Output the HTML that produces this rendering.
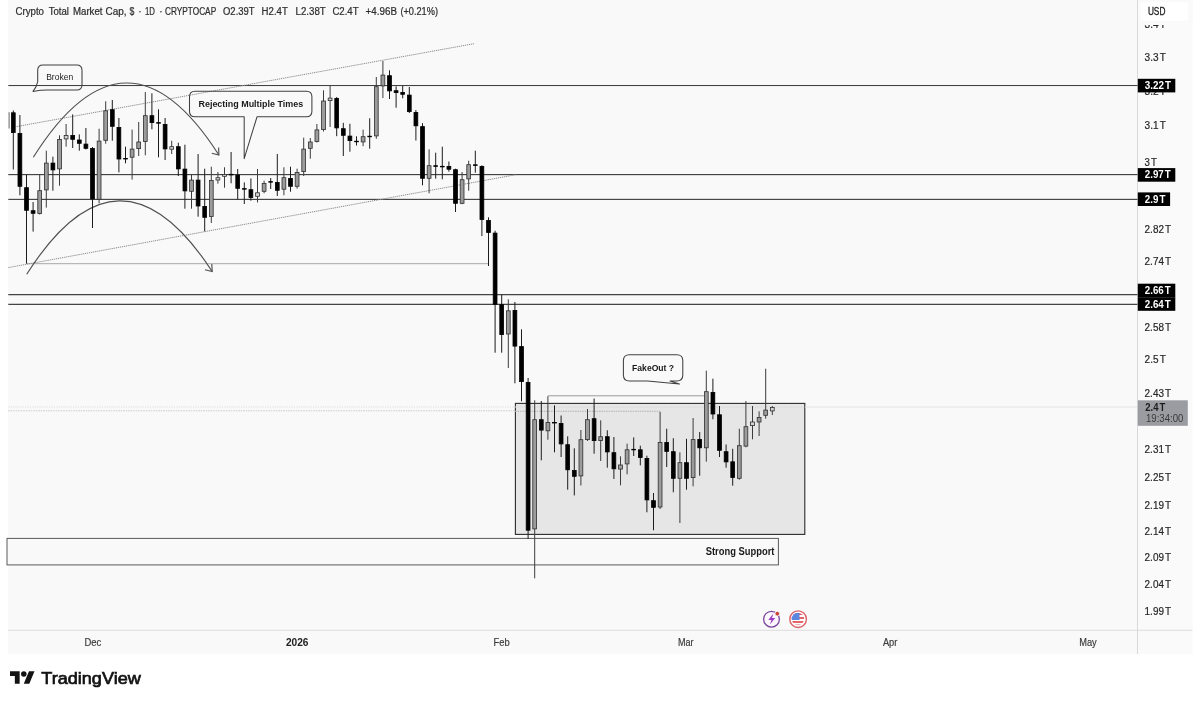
<!DOCTYPE html>
<html lang="en"><head><meta charset="utf-8"><title>Crypto Total Market Cap chart</title>
<style>
html,body{margin:0;padding:0;background:#fff;}
body{width:1200px;height:703px;overflow:hidden;position:relative;}
svg{position:absolute;left:0;top:0;display:block;}
text{font-family:"Liberation Sans",sans-serif;fill:#2a2a2a;}
.ax{font-size:10px;fill:#262626;stroke:#262626;stroke-width:0.18px;}
.bl{font-size:10px;font-weight:bold;fill:#fff;}
.cp1{font-size:10px;font-weight:bold;fill:#1c1c1c;}
.cp2{font-size:10px;fill:#3a3a3a;}
.usd{font-size:10px;fill:#222;stroke:#222;stroke-width:0.3px;}
.tx{font-size:10px;fill:#3a3a3a;stroke:#3a3a3a;stroke-width:0.18px;}
.tb{font-size:10px;font-weight:bold;fill:#222;}
.cb{font-size:9px;fill:#222;}
.cbb{font-size:9px;font-weight:bold;fill:#1a1a1a;}
.ss{font-size:10px;font-weight:bold;fill:#1a1a1a;}
.ti{font-size:10px;fill:#2e2e2e;stroke:#2e2e2e;stroke-width:0.22px;}
.tv{font-size:17px;fill:#131313;stroke:#131313;stroke-width:0.7px;}
</style></head>
<body>
<svg width="1200" height="703" viewBox="0 0 1200 703">
<rect x="8" y="0" width="1184.4" height="654" fill="#f9f9f9"/>
<rect x="1138" y="0" width="54.4" height="654" fill="#fafafa"/>
<line x1="1137.5" y1="0" x2="1137.5" y2="654" stroke="#d9d9d9" stroke-width="1"/>
<line x1="8.3" y1="630.3" x2="1192.4" y2="630.3" stroke="#dcdcdc" stroke-width="1"/>
<rect x="515.4" y="403.4" width="289.4" height="131" fill="#e6e6e6" stroke="#2a2a2a" stroke-width="1.1"/>
<rect x="7" y="538.4" width="771.4" height="26.5" fill="#f9f9f9" stroke="#5a5a5a" stroke-width="1"/>
<line x1="8.3" y1="407" x2="515" y2="407" stroke="#dcdcdc" stroke-width="1" stroke-dasharray="1.2 1.2"/>
<line x1="515" y1="407" x2="805" y2="407" stroke="#d4d4d4" stroke-width="1" stroke-dasharray="1.2 1.2"/>
<line x1="805" y1="407" x2="1137" y2="407" stroke="#e3e3e3" stroke-width="1.2"/>
<line x1="8.3" y1="410.8" x2="515" y2="410.8" stroke="#c6c6c6" stroke-width="1.1" stroke-dasharray="1.4 1.1"/>
<line x1="515" y1="411.3" x2="660" y2="411.3" stroke="#b4b4b4" stroke-width="1.1" stroke-dasharray="1.6 0.8"/>
<line x1="8.3" y1="85.55" x2="1137.5" y2="85.55" stroke="#222" stroke-width="0.9"/>
<line x1="8.3" y1="174.65" x2="1137.5" y2="174.65" stroke="#262626" stroke-width="1.0"/>
<line x1="8.3" y1="199.35" x2="1137.5" y2="199.35" stroke="#262626" stroke-width="1.0"/>
<line x1="8.3" y1="294.6" x2="1137.5" y2="294.6" stroke="#444" stroke-width="1.25"/>
<line x1="8.3" y1="304.3" x2="1137.5" y2="304.3" stroke="#444" stroke-width="1.25"/>
<line x1="26.5" y1="263.7" x2="488.5" y2="263.7" stroke="#a8a8a8" stroke-width="1"/>
<line x1="547.9" y1="395.8" x2="706.3" y2="395.8" stroke="#9a9a9a" stroke-width="1"/>
<line x1="16.5" y1="126.6" x2="474" y2="43.7" stroke="#909090" stroke-width="1" stroke-dasharray="1.3 0.8"/>
<line x1="8.3" y1="267.6" x2="515.3" y2="174.8" stroke="#909090" stroke-width="1" stroke-dasharray="1.3 0.8"/>
<path d="M33.3 157.3 Q126 10 218.7 154.7" fill="none" stroke="#505050" stroke-width="1.15"/>
<path d="M211.8 153.2 L218.9 155 L218.6 147.6" fill="none" stroke="#505050" stroke-width="1.15"/>
<path d="M26.7 274.3 Q119 129 212 271.2" fill="none" stroke="#505050" stroke-width="1.15"/>
<path d="M205 269.8 L212.2 271.5 L211.8 264" fill="none" stroke="#505050" stroke-width="1.15"/>
<line x1="13.30" y1="110.4" x2="13.30" y2="169.5" stroke="#1c1c1c" stroke-width="1"/>
<rect x="11.40" y="112.80" width="3.80" height="19.80" fill="#000" stroke="#000" stroke-width="0.8"/>
<line x1="19.90" y1="115" x2="19.90" y2="195.3" stroke="#1c1c1c" stroke-width="1"/>
<rect x="18.00" y="133.40" width="3.80" height="52.90" fill="#000" stroke="#000" stroke-width="0.8"/>
<line x1="26.50" y1="174.7" x2="26.50" y2="263.7" stroke="#1c1c1c" stroke-width="1"/>
<rect x="24.60" y="187.70" width="3.80" height="22.60" fill="#000" stroke="#000" stroke-width="0.8"/>
<line x1="33.10" y1="202" x2="33.10" y2="231.6" stroke="#1c1c1c" stroke-width="1"/>
<rect x="31.20" y="210.70" width="3.80" height="2.60" fill="#000" stroke="#000" stroke-width="0.8"/>
<line x1="39.70" y1="174" x2="39.70" y2="214.5" stroke="#3c3c3c" stroke-width="1"/>
<rect x="37.80" y="190.70" width="3.80" height="22.90" fill="#9c9c9c" stroke="#2e2e2e" stroke-width="0.8"/>
<line x1="46.30" y1="150.7" x2="46.30" y2="207.6" stroke="#3c3c3c" stroke-width="1"/>
<rect x="44.40" y="163.10" width="3.80" height="26.80" fill="#9c9c9c" stroke="#2e2e2e" stroke-width="0.8"/>
<line x1="52.90" y1="156.7" x2="52.90" y2="190.7" stroke="#1c1c1c" stroke-width="1"/>
<rect x="51.00" y="163.10" width="3.80" height="6.80" fill="#000" stroke="#000" stroke-width="0.8"/>
<line x1="59.50" y1="135.3" x2="59.50" y2="185.7" stroke="#3c3c3c" stroke-width="1"/>
<rect x="57.60" y="139.40" width="3.80" height="29.50" fill="#9c9c9c" stroke="#2e2e2e" stroke-width="0.8"/>
<line x1="66.10" y1="124" x2="66.10" y2="146.7" stroke="#3c3c3c" stroke-width="1"/>
<rect x="64.20" y="135.40" width="3.80" height="3.50" fill="#d4d4d4" stroke="#2e2e2e" stroke-width="0.8"/>
<line x1="72.70" y1="114.4" x2="72.70" y2="148" stroke="#1c1c1c" stroke-width="1"/>
<rect x="70.80" y="135.40" width="3.80" height="3.90" fill="#000" stroke="#000" stroke-width="0.8"/>
<line x1="79.30" y1="134.4" x2="79.30" y2="150.7" stroke="#1c1c1c" stroke-width="1"/>
<rect x="77.40" y="140.00" width="3.80" height="3.30" fill="#000" stroke="#000" stroke-width="0.8"/>
<line x1="85.90" y1="128" x2="85.90" y2="149.5" stroke="#1c1c1c" stroke-width="1"/>
<rect x="84.00" y="144.10" width="3.80" height="4.20" fill="#000" stroke="#000" stroke-width="0.8"/>
<line x1="92.50" y1="147" x2="92.50" y2="228" stroke="#1c1c1c" stroke-width="1"/>
<rect x="90.60" y="148.40" width="3.80" height="50.50" fill="#000" stroke="#000" stroke-width="0.8"/>
<line x1="99.10" y1="128.7" x2="99.10" y2="203.3" stroke="#3c3c3c" stroke-width="1"/>
<rect x="97.20" y="141.10" width="3.80" height="58.10" fill="#9c9c9c" stroke="#2e2e2e" stroke-width="0.8"/>
<line x1="105.70" y1="101.3" x2="105.70" y2="143.7" stroke="#3c3c3c" stroke-width="1"/>
<rect x="103.80" y="110.80" width="3.80" height="29.50" fill="#9c9c9c" stroke="#2e2e2e" stroke-width="0.8"/>
<line x1="112.30" y1="100" x2="112.30" y2="140.7" stroke="#1c1c1c" stroke-width="1"/>
<rect x="110.40" y="109.70" width="3.80" height="16.60" fill="#000" stroke="#000" stroke-width="0.8"/>
<line x1="118.90" y1="118" x2="118.90" y2="172.4" stroke="#1c1c1c" stroke-width="1"/>
<rect x="117.00" y="127.40" width="3.80" height="31.60" fill="#000" stroke="#000" stroke-width="0.8"/>
<line x1="125.50" y1="146.7" x2="125.50" y2="163.3" stroke="#1c1c1c" stroke-width="1"/>
<rect x="123.60" y="158.40" width="3.80" height="0.60" fill="#000" stroke="#000" stroke-width="0.8"/>
<line x1="132.10" y1="129.6" x2="132.10" y2="179.6" stroke="#3c3c3c" stroke-width="1"/>
<rect x="130.20" y="149.10" width="3.80" height="8.10" fill="#9c9c9c" stroke="#2e2e2e" stroke-width="0.8"/>
<line x1="138.70" y1="122" x2="138.70" y2="156" stroke="#3c3c3c" stroke-width="1"/>
<rect x="136.80" y="142.00" width="3.80" height="6.60" fill="#9c9c9c" stroke="#2e2e2e" stroke-width="0.8"/>
<line x1="145.30" y1="92" x2="145.30" y2="155.3" stroke="#3c3c3c" stroke-width="1"/>
<rect x="143.40" y="115.70" width="3.80" height="25.90" fill="#9c9c9c" stroke="#2e2e2e" stroke-width="0.8"/>
<line x1="151.90" y1="93.3" x2="151.90" y2="129.3" stroke="#1c1c1c" stroke-width="1"/>
<rect x="150.00" y="115.70" width="3.80" height="6.90" fill="#000" stroke="#000" stroke-width="0.8"/>
<line x1="158.50" y1="109.3" x2="158.50" y2="157.3" stroke="#1c1c1c" stroke-width="1"/>
<rect x="156.60" y="122.60" width="3.80" height="0.60" fill="#000" stroke="#000" stroke-width="0.8"/>
<line x1="165.10" y1="118" x2="165.10" y2="160" stroke="#1c1c1c" stroke-width="1"/>
<rect x="163.20" y="124.40" width="3.80" height="24.50" fill="#000" stroke="#000" stroke-width="0.8"/>
<line x1="171.70" y1="140.7" x2="171.70" y2="154" stroke="#3c3c3c" stroke-width="1"/>
<rect x="169.80" y="146.70" width="3.80" height="2.50" fill="#d4d4d4" stroke="#2e2e2e" stroke-width="0.8"/>
<line x1="178.30" y1="142.7" x2="178.30" y2="176" stroke="#1c1c1c" stroke-width="1"/>
<rect x="176.40" y="146.70" width="3.80" height="22.20" fill="#000" stroke="#000" stroke-width="0.8"/>
<line x1="184.90" y1="144.7" x2="184.90" y2="208.7" stroke="#1c1c1c" stroke-width="1"/>
<rect x="183.00" y="169.10" width="3.80" height="21.80" fill="#000" stroke="#000" stroke-width="0.8"/>
<line x1="191.50" y1="175" x2="191.50" y2="208.7" stroke="#3c3c3c" stroke-width="1"/>
<rect x="189.60" y="180.10" width="3.80" height="11.20" fill="#9c9c9c" stroke="#2e2e2e" stroke-width="0.8"/>
<line x1="198.10" y1="154" x2="198.10" y2="216.7" stroke="#1c1c1c" stroke-width="1"/>
<rect x="196.20" y="180.10" width="3.80" height="25.90" fill="#000" stroke="#000" stroke-width="0.8"/>
<line x1="204.70" y1="168.7" x2="204.70" y2="231.3" stroke="#1c1c1c" stroke-width="1"/>
<rect x="202.80" y="206.40" width="3.80" height="10.90" fill="#000" stroke="#000" stroke-width="0.8"/>
<line x1="211.30" y1="166.7" x2="211.30" y2="223" stroke="#3c3c3c" stroke-width="1"/>
<rect x="209.40" y="180.40" width="3.80" height="36.20" fill="#9c9c9c" stroke="#2e2e2e" stroke-width="0.8"/>
<line x1="217.90" y1="172" x2="217.90" y2="183.7" stroke="#3c3c3c" stroke-width="1"/>
<rect x="216.00" y="177.70" width="3.80" height="2.30" fill="#d4d4d4" stroke="#2e2e2e" stroke-width="0.8"/>
<line x1="224.50" y1="167.3" x2="224.50" y2="187.7" stroke="#3c3c3c" stroke-width="1"/>
<rect x="222.60" y="174.40" width="3.80" height="1.90" fill="#d4d4d4" stroke="#2e2e2e" stroke-width="0.8"/>
<line x1="231.10" y1="152" x2="231.10" y2="183.3" stroke="#1c1c1c" stroke-width="1"/>
<rect x="229.20" y="174.30" width="3.80" height="0.60" fill="#000" stroke="#000" stroke-width="0.8"/>
<line x1="237.70" y1="169" x2="237.70" y2="199.3" stroke="#1c1c1c" stroke-width="1"/>
<rect x="235.80" y="175.10" width="3.80" height="13.20" fill="#000" stroke="#000" stroke-width="0.8"/>
<line x1="244.30" y1="182.4" x2="244.30" y2="204" stroke="#1c1c1c" stroke-width="1"/>
<rect x="242.40" y="188.60" width="3.80" height="0.60" fill="#000" stroke="#000" stroke-width="0.8"/>
<line x1="250.90" y1="178.4" x2="250.90" y2="200.7" stroke="#1c1c1c" stroke-width="1"/>
<rect x="249.00" y="189.70" width="3.80" height="7.90" fill="#000" stroke="#000" stroke-width="0.8"/>
<line x1="257.50" y1="169" x2="257.50" y2="202.4" stroke="#3c3c3c" stroke-width="1"/>
<rect x="255.60" y="192.80" width="3.80" height="3.50" fill="#d4d4d4" stroke="#2e2e2e" stroke-width="0.8"/>
<line x1="264.10" y1="180.7" x2="264.10" y2="193.3" stroke="#3c3c3c" stroke-width="1"/>
<rect x="262.20" y="183.40" width="3.80" height="7.90" fill="#9c9c9c" stroke="#2e2e2e" stroke-width="0.8"/>
<line x1="270.70" y1="178" x2="270.70" y2="189" stroke="#1c1c1c" stroke-width="1"/>
<rect x="268.80" y="181.60" width="3.80" height="0.60" fill="#000" stroke="#000" stroke-width="0.8"/>
<line x1="277.30" y1="154" x2="277.30" y2="196" stroke="#1c1c1c" stroke-width="1"/>
<rect x="275.40" y="182.40" width="3.80" height="7.90" fill="#000" stroke="#000" stroke-width="0.8"/>
<line x1="283.90" y1="167.3" x2="283.90" y2="195.3" stroke="#3c3c3c" stroke-width="1"/>
<rect x="282.00" y="177.70" width="3.80" height="11.50" fill="#9c9c9c" stroke="#2e2e2e" stroke-width="0.8"/>
<line x1="290.50" y1="166.7" x2="290.50" y2="191.7" stroke="#1c1c1c" stroke-width="1"/>
<rect x="288.60" y="178.40" width="3.80" height="7.90" fill="#000" stroke="#000" stroke-width="0.8"/>
<line x1="297.10" y1="168.7" x2="297.10" y2="188.7" stroke="#3c3c3c" stroke-width="1"/>
<rect x="295.20" y="172.40" width="3.80" height="13.90" fill="#9c9c9c" stroke="#2e2e2e" stroke-width="0.8"/>
<line x1="303.70" y1="137.7" x2="303.70" y2="176" stroke="#3c3c3c" stroke-width="1"/>
<rect x="301.80" y="149.10" width="3.80" height="22.50" fill="#9c9c9c" stroke="#2e2e2e" stroke-width="0.8"/>
<line x1="310.30" y1="138" x2="310.30" y2="158.7" stroke="#3c3c3c" stroke-width="1"/>
<rect x="308.40" y="142.00" width="3.80" height="6.30" fill="#9c9c9c" stroke="#2e2e2e" stroke-width="0.8"/>
<line x1="316.90" y1="124" x2="316.90" y2="142.5" stroke="#3c3c3c" stroke-width="1"/>
<rect x="315.00" y="129.90" width="3.80" height="11.70" fill="#9c9c9c" stroke="#2e2e2e" stroke-width="0.8"/>
<line x1="323.50" y1="90.3" x2="323.50" y2="131.5" stroke="#3c3c3c" stroke-width="1"/>
<rect x="321.60" y="101.00" width="3.80" height="28.60" fill="#9c9c9c" stroke="#2e2e2e" stroke-width="0.8"/>
<line x1="330.10" y1="86" x2="330.10" y2="127" stroke="#3c3c3c" stroke-width="1"/>
<rect x="328.20" y="98.10" width="3.80" height="2.50" fill="#d4d4d4" stroke="#2e2e2e" stroke-width="0.8"/>
<line x1="336.70" y1="97" x2="336.70" y2="136.2" stroke="#1c1c1c" stroke-width="1"/>
<rect x="334.80" y="98.40" width="3.80" height="29.50" fill="#000" stroke="#000" stroke-width="0.8"/>
<line x1="343.30" y1="122.8" x2="343.30" y2="156" stroke="#1c1c1c" stroke-width="1"/>
<rect x="341.40" y="128.70" width="3.80" height="6.60" fill="#000" stroke="#000" stroke-width="0.8"/>
<line x1="349.90" y1="123.8" x2="349.90" y2="151.7" stroke="#1c1c1c" stroke-width="1"/>
<rect x="348.00" y="136.10" width="3.80" height="4.50" fill="#000" stroke="#000" stroke-width="0.8"/>
<line x1="356.50" y1="136.3" x2="356.50" y2="145.5" stroke="#1c1c1c" stroke-width="1"/>
<rect x="354.60" y="141.20" width="3.80" height="0.60" fill="#000" stroke="#000" stroke-width="0.8"/>
<line x1="363.10" y1="129.7" x2="363.10" y2="146.2" stroke="#3c3c3c" stroke-width="1"/>
<rect x="361.20" y="136.70" width="3.80" height="5.20" fill="#9c9c9c" stroke="#2e2e2e" stroke-width="0.8"/>
<line x1="369.70" y1="118.3" x2="369.70" y2="148.7" stroke="#1c1c1c" stroke-width="1"/>
<rect x="367.80" y="136.20" width="3.80" height="0.60" fill="#000" stroke="#000" stroke-width="0.8"/>
<line x1="376.30" y1="77" x2="376.30" y2="138.8" stroke="#3c3c3c" stroke-width="1"/>
<rect x="374.40" y="86.70" width="3.80" height="49.20" fill="#9c9c9c" stroke="#2e2e2e" stroke-width="0.8"/>
<line x1="382.90" y1="61" x2="382.90" y2="98" stroke="#3c3c3c" stroke-width="1"/>
<rect x="381.00" y="75.10" width="3.80" height="10.80" fill="#9c9c9c" stroke="#2e2e2e" stroke-width="0.8"/>
<line x1="389.50" y1="70.3" x2="389.50" y2="99" stroke="#1c1c1c" stroke-width="1"/>
<rect x="387.60" y="75.70" width="3.80" height="15.20" fill="#000" stroke="#000" stroke-width="0.8"/>
<line x1="396.10" y1="86.3" x2="396.10" y2="107.7" stroke="#1c1c1c" stroke-width="1"/>
<rect x="394.20" y="90.70" width="3.80" height="1.90" fill="#000" stroke="#000" stroke-width="0.8"/>
<line x1="402.70" y1="86" x2="402.70" y2="98.3" stroke="#1c1c1c" stroke-width="1"/>
<rect x="400.80" y="92.40" width="3.80" height="1.90" fill="#000" stroke="#000" stroke-width="0.8"/>
<line x1="409.30" y1="87" x2="409.30" y2="113" stroke="#1c1c1c" stroke-width="1"/>
<rect x="407.40" y="95.10" width="3.80" height="16.50" fill="#000" stroke="#000" stroke-width="0.8"/>
<line x1="415.90" y1="110" x2="415.90" y2="140.5" stroke="#1c1c1c" stroke-width="1"/>
<rect x="414.00" y="112.40" width="3.80" height="13.40" fill="#000" stroke="#000" stroke-width="0.8"/>
<line x1="422.50" y1="123.2" x2="422.50" y2="185.3" stroke="#1c1c1c" stroke-width="1"/>
<rect x="420.60" y="126.60" width="3.80" height="51.70" fill="#000" stroke="#000" stroke-width="0.8"/>
<line x1="429.10" y1="149.3" x2="429.10" y2="193.3" stroke="#3c3c3c" stroke-width="1"/>
<rect x="427.20" y="165.70" width="3.80" height="12.60" fill="#9c9c9c" stroke="#2e2e2e" stroke-width="0.8"/>
<line x1="435.70" y1="152.7" x2="435.70" y2="178.7" stroke="#1c1c1c" stroke-width="1"/>
<rect x="433.80" y="165.70" width="3.80" height="0.70" fill="#000" stroke="#000" stroke-width="0.8"/>
<line x1="442.30" y1="146.7" x2="442.30" y2="179.3" stroke="#1c1c1c" stroke-width="1"/>
<rect x="440.40" y="166.30" width="3.80" height="0.60" fill="#000" stroke="#000" stroke-width="0.8"/>
<line x1="448.90" y1="161.5" x2="448.90" y2="171.7" stroke="#1c1c1c" stroke-width="1"/>
<rect x="447.00" y="166.40" width="3.80" height="2.80" fill="#000" stroke="#000" stroke-width="0.8"/>
<line x1="455.50" y1="168.7" x2="455.50" y2="212" stroke="#1c1c1c" stroke-width="1"/>
<rect x="453.60" y="169.70" width="3.80" height="33.60" fill="#000" stroke="#000" stroke-width="0.8"/>
<line x1="462.10" y1="172" x2="462.10" y2="204.2" stroke="#3c3c3c" stroke-width="1"/>
<rect x="460.20" y="179.70" width="3.80" height="23.60" fill="#9c9c9c" stroke="#2e2e2e" stroke-width="0.8"/>
<line x1="468.70" y1="160.7" x2="468.70" y2="190.7" stroke="#3c3c3c" stroke-width="1"/>
<rect x="466.80" y="164.70" width="3.80" height="14.20" fill="#9c9c9c" stroke="#2e2e2e" stroke-width="0.8"/>
<line x1="475.30" y1="150.7" x2="475.30" y2="172.7" stroke="#1c1c1c" stroke-width="1"/>
<rect x="473.40" y="164.80" width="3.80" height="0.60" fill="#000" stroke="#000" stroke-width="0.8"/>
<line x1="481.90" y1="165.3" x2="481.90" y2="236" stroke="#1c1c1c" stroke-width="1"/>
<rect x="480.00" y="166.40" width="3.80" height="53.20" fill="#000" stroke="#000" stroke-width="0.8"/>
<line x1="488.50" y1="217.3" x2="488.50" y2="266" stroke="#1c1c1c" stroke-width="1"/>
<rect x="486.60" y="220.40" width="3.80" height="12.20" fill="#000" stroke="#000" stroke-width="0.8"/>
<line x1="495.10" y1="230.7" x2="495.10" y2="352.7" stroke="#1c1c1c" stroke-width="1"/>
<rect x="493.20" y="233.10" width="3.80" height="71.20" fill="#000" stroke="#000" stroke-width="0.8"/>
<line x1="501.70" y1="294.7" x2="501.70" y2="352.7" stroke="#1c1c1c" stroke-width="1"/>
<rect x="499.80" y="304.70" width="3.80" height="29.90" fill="#000" stroke="#000" stroke-width="0.8"/>
<line x1="508.30" y1="299.3" x2="508.30" y2="368" stroke="#3c3c3c" stroke-width="1"/>
<rect x="506.40" y="310.80" width="3.80" height="23.20" fill="#9c9c9c" stroke="#2e2e2e" stroke-width="0.8"/>
<line x1="514.90" y1="302" x2="514.90" y2="383.3" stroke="#1c1c1c" stroke-width="1"/>
<rect x="513.00" y="310.40" width="3.80" height="35.70" fill="#000" stroke="#000" stroke-width="0.8"/>
<line x1="521.50" y1="329.3" x2="521.50" y2="401.3" stroke="#1c1c1c" stroke-width="1"/>
<rect x="519.60" y="346.60" width="3.80" height="35.00" fill="#000" stroke="#000" stroke-width="0.8"/>
<line x1="528.10" y1="378" x2="528.10" y2="539" stroke="#1c1c1c" stroke-width="1"/>
<rect x="526.20" y="382.40" width="3.80" height="147.80" fill="#000" stroke="#000" stroke-width="0.8"/>
<line x1="534.70" y1="400.3" x2="534.70" y2="578.3" stroke="#3c3c3c" stroke-width="1"/>
<rect x="532.80" y="419.70" width="3.80" height="109.20" fill="#9c9c9c" stroke="#2e2e2e" stroke-width="0.8"/>
<line x1="541.30" y1="401" x2="541.30" y2="460.3" stroke="#1c1c1c" stroke-width="1"/>
<rect x="539.40" y="419.70" width="3.80" height="10.40" fill="#000" stroke="#000" stroke-width="0.8"/>
<line x1="547.90" y1="396.2" x2="547.90" y2="439.7" stroke="#3c3c3c" stroke-width="1"/>
<rect x="546.00" y="422.40" width="3.80" height="8.40" fill="#9c9c9c" stroke="#2e2e2e" stroke-width="0.8"/>
<line x1="554.50" y1="405.4" x2="554.50" y2="452.3" stroke="#1c1c1c" stroke-width="1"/>
<rect x="552.60" y="422.40" width="3.80" height="0.60" fill="#000" stroke="#000" stroke-width="0.8"/>
<line x1="561.10" y1="415.5" x2="561.10" y2="457" stroke="#1c1c1c" stroke-width="1"/>
<rect x="559.20" y="423.40" width="3.80" height="20.50" fill="#000" stroke="#000" stroke-width="0.8"/>
<line x1="567.70" y1="436.3" x2="567.70" y2="489.7" stroke="#1c1c1c" stroke-width="1"/>
<rect x="565.80" y="444.70" width="3.80" height="25.10" fill="#000" stroke="#000" stroke-width="0.8"/>
<line x1="574.30" y1="448.3" x2="574.30" y2="495.4" stroke="#1c1c1c" stroke-width="1"/>
<rect x="572.40" y="470.40" width="3.80" height="5.90" fill="#000" stroke="#000" stroke-width="0.8"/>
<line x1="580.90" y1="430" x2="580.90" y2="485.5" stroke="#3c3c3c" stroke-width="1"/>
<rect x="579.00" y="439.70" width="3.80" height="36.20" fill="#9c9c9c" stroke="#2e2e2e" stroke-width="0.8"/>
<line x1="587.50" y1="409" x2="587.50" y2="441" stroke="#3c3c3c" stroke-width="1"/>
<rect x="585.60" y="419.70" width="3.80" height="19.90" fill="#9c9c9c" stroke="#2e2e2e" stroke-width="0.8"/>
<line x1="594.10" y1="398.5" x2="594.10" y2="453.7" stroke="#1c1c1c" stroke-width="1"/>
<rect x="592.20" y="418.70" width="3.80" height="21.90" fill="#000" stroke="#000" stroke-width="0.8"/>
<line x1="600.70" y1="420.3" x2="600.70" y2="461" stroke="#3c3c3c" stroke-width="1"/>
<rect x="598.80" y="436.70" width="3.80" height="3.90" fill="#9c9c9c" stroke="#2e2e2e" stroke-width="0.8"/>
<line x1="607.30" y1="430.3" x2="607.30" y2="467.7" stroke="#1c1c1c" stroke-width="1"/>
<rect x="605.40" y="436.70" width="3.80" height="15.20" fill="#000" stroke="#000" stroke-width="0.8"/>
<line x1="613.90" y1="437" x2="613.90" y2="479" stroke="#1c1c1c" stroke-width="1"/>
<rect x="612.00" y="452.70" width="3.80" height="16.10" fill="#000" stroke="#000" stroke-width="0.8"/>
<line x1="620.50" y1="456.3" x2="620.50" y2="485.3" stroke="#3c3c3c" stroke-width="1"/>
<rect x="618.60" y="465.00" width="3.80" height="4.10" fill="#9c9c9c" stroke="#2e2e2e" stroke-width="0.8"/>
<line x1="627.10" y1="443.7" x2="627.10" y2="474.3" stroke="#3c3c3c" stroke-width="1"/>
<rect x="625.20" y="449.80" width="3.80" height="14.10" fill="#9c9c9c" stroke="#2e2e2e" stroke-width="0.8"/>
<line x1="633.70" y1="437.4" x2="633.70" y2="456" stroke="#1c1c1c" stroke-width="1"/>
<rect x="631.80" y="449.30" width="3.80" height="0.60" fill="#000" stroke="#000" stroke-width="0.8"/>
<line x1="640.30" y1="445.7" x2="640.30" y2="465.4" stroke="#1c1c1c" stroke-width="1"/>
<rect x="638.40" y="449.80" width="3.80" height="7.80" fill="#000" stroke="#000" stroke-width="0.8"/>
<line x1="646.90" y1="455.7" x2="646.90" y2="512.3" stroke="#1c1c1c" stroke-width="1"/>
<rect x="645.00" y="458.40" width="3.80" height="41.50" fill="#000" stroke="#000" stroke-width="0.8"/>
<line x1="653.50" y1="493" x2="653.50" y2="530.3" stroke="#1c1c1c" stroke-width="1"/>
<rect x="651.60" y="500.70" width="3.80" height="6.60" fill="#000" stroke="#000" stroke-width="0.8"/>
<line x1="660.10" y1="411.8" x2="660.10" y2="509" stroke="#3c3c3c" stroke-width="1"/>
<rect x="658.20" y="442.40" width="3.80" height="64.60" fill="#9c9c9c" stroke="#2e2e2e" stroke-width="0.8"/>
<line x1="666.70" y1="428.7" x2="666.70" y2="467" stroke="#1c1c1c" stroke-width="1"/>
<rect x="664.80" y="442.40" width="3.80" height="9.00" fill="#000" stroke="#000" stroke-width="0.8"/>
<line x1="673.30" y1="438.2" x2="673.30" y2="492.3" stroke="#1c1c1c" stroke-width="1"/>
<rect x="671.40" y="451.70" width="3.80" height="26.60" fill="#000" stroke="#000" stroke-width="0.8"/>
<line x1="679.90" y1="452.3" x2="679.90" y2="523" stroke="#3c3c3c" stroke-width="1"/>
<rect x="678.00" y="462.70" width="3.80" height="15.60" fill="#9c9c9c" stroke="#2e2e2e" stroke-width="0.8"/>
<line x1="686.50" y1="438.8" x2="686.50" y2="489.7" stroke="#1c1c1c" stroke-width="1"/>
<rect x="684.60" y="462.70" width="3.80" height="15.60" fill="#000" stroke="#000" stroke-width="0.8"/>
<line x1="693.10" y1="418" x2="693.10" y2="486.3" stroke="#3c3c3c" stroke-width="1"/>
<rect x="691.20" y="439.60" width="3.80" height="38.00" fill="#9c9c9c" stroke="#2e2e2e" stroke-width="0.8"/>
<line x1="699.70" y1="432" x2="699.70" y2="475.7" stroke="#1c1c1c" stroke-width="1"/>
<rect x="697.80" y="439.40" width="3.80" height="8.40" fill="#000" stroke="#000" stroke-width="0.8"/>
<line x1="706.30" y1="370.7" x2="706.30" y2="461.7" stroke="#3c3c3c" stroke-width="1"/>
<rect x="704.40" y="391.70" width="3.80" height="56.10" fill="#9c9c9c" stroke="#2e2e2e" stroke-width="0.8"/>
<line x1="712.90" y1="378.7" x2="712.90" y2="419.3" stroke="#1c1c1c" stroke-width="1"/>
<rect x="711.00" y="392.40" width="3.80" height="21.60" fill="#000" stroke="#000" stroke-width="0.8"/>
<line x1="719.50" y1="406" x2="719.50" y2="457" stroke="#1c1c1c" stroke-width="1"/>
<rect x="717.60" y="414.80" width="3.80" height="35.50" fill="#000" stroke="#000" stroke-width="0.8"/>
<line x1="726.10" y1="444.5" x2="726.10" y2="467.7" stroke="#1c1c1c" stroke-width="1"/>
<rect x="724.20" y="451.70" width="3.80" height="10.20" fill="#000" stroke="#000" stroke-width="0.8"/>
<line x1="732.70" y1="448.8" x2="732.70" y2="485.7" stroke="#1c1c1c" stroke-width="1"/>
<rect x="730.80" y="461.80" width="3.80" height="15.80" fill="#000" stroke="#000" stroke-width="0.8"/>
<line x1="739.30" y1="428.7" x2="739.30" y2="479.7" stroke="#3c3c3c" stroke-width="1"/>
<rect x="737.40" y="445.70" width="3.80" height="32.60" fill="#9c9c9c" stroke="#2e2e2e" stroke-width="0.8"/>
<line x1="745.90" y1="401" x2="745.90" y2="447.3" stroke="#3c3c3c" stroke-width="1"/>
<rect x="744.00" y="426.70" width="3.80" height="19.40" fill="#9c9c9c" stroke="#2e2e2e" stroke-width="0.8"/>
<line x1="752.50" y1="406" x2="752.50" y2="439.3" stroke="#3c3c3c" stroke-width="1"/>
<rect x="750.60" y="422.00" width="3.80" height="3.60" fill="#d4d4d4" stroke="#2e2e2e" stroke-width="0.8"/>
<line x1="759.10" y1="411.3" x2="759.10" y2="436" stroke="#3c3c3c" stroke-width="1"/>
<rect x="757.20" y="417.40" width="3.80" height="4.60" fill="#9c9c9c" stroke="#2e2e2e" stroke-width="0.8"/>
<line x1="765.70" y1="368.7" x2="765.70" y2="418.7" stroke="#3c3c3c" stroke-width="1"/>
<rect x="763.80" y="410.10" width="3.80" height="5.20" fill="#9c9c9c" stroke="#2e2e2e" stroke-width="0.8"/>
<line x1="772.30" y1="406" x2="772.30" y2="415" stroke="#3c3c3c" stroke-width="1"/>
<rect x="770.40" y="407.40" width="3.80" height="3.50" fill="#d4d4d4" stroke="#2e2e2e" stroke-width="0.8"/>
<line x1="9.1" y1="112.2" x2="9.1" y2="128.5" stroke="#5a5a5a" stroke-width="0.9"/>
<path d="M43 65 H76.7 Q82 65 82 70.3 V84.7 Q82 90 76.7 90 H47 Q42 90 33 91.4 Q37 86.5 37.7 81.5 V70.3 Q37.7 65 43 65 Z" fill="none" stroke="#404040" stroke-width="1.05" stroke-linejoin="round"/>
<path d="M195 91.2 H306.4 Q311.9 91.2 311.9 96.7 V111.3 Q311.9 116.8 306.4 116.8 H257 L244.2 158.7 V116.8 H195 Q189.5 116.8 189.5 111.3 V96.7 Q189.5 91.2 195 91.2 Z" fill="none" stroke="#404040" stroke-width="1.05" stroke-linejoin="round"/>
<path d="M629.4 354.8 H676.8 Q682.8 354.8 682.8 360.8 V375 Q682.8 381 676.8 381 H670 L679.4 384.1 L647.5 381 H629.4 Q623.4 381 623.4 375 V360.8 Q623.4 354.8 629.4 354.8 Z" fill="none" stroke="#404040" stroke-width="1.05" stroke-linejoin="round"/>
<text x="1144.6" y="28.4" class="ax" textLength="21.2" lengthAdjust="spacingAndGlyphs">3.4<tspan dx="1.1">T</tspan></text>
<text x="1144.6" y="61.0" class="ax" textLength="21.2" lengthAdjust="spacingAndGlyphs">3.3<tspan dx="1.1">T</tspan></text>
<text x="1144.6" y="95.0" class="ax" textLength="21.2" lengthAdjust="spacingAndGlyphs">3.2<tspan dx="1.1">T</tspan></text>
<text x="1144.6" y="128.8" class="ax" textLength="21.2" lengthAdjust="spacingAndGlyphs">3.1<tspan dx="1.1">T</tspan></text>
<text x="1144.6" y="165.5" class="ax" textLength="12.3" lengthAdjust="spacingAndGlyphs">3<tspan dx="1.1">T</tspan></text>
<text x="1144.6" y="233.1" class="ax" textLength="26.5" lengthAdjust="spacingAndGlyphs">2.82<tspan dx="1.1">T</tspan></text>
<text x="1144.6" y="265.0" class="ax" textLength="26.5" lengthAdjust="spacingAndGlyphs">2.74<tspan dx="1.1">T</tspan></text>
<text x="1144.6" y="330.5" class="ax" textLength="26.5" lengthAdjust="spacingAndGlyphs">2.58<tspan dx="1.1">T</tspan></text>
<text x="1144.6" y="363.0" class="ax" textLength="21.2" lengthAdjust="spacingAndGlyphs">2.5<tspan dx="1.1">T</tspan></text>
<text x="1144.6" y="397.0" class="ax" textLength="26.5" lengthAdjust="spacingAndGlyphs">2.43<tspan dx="1.1">T</tspan></text>
<text x="1144.6" y="452.5" class="ax" textLength="26.5" lengthAdjust="spacingAndGlyphs">2.31<tspan dx="1.1">T</tspan></text>
<text x="1144.6" y="480.5" class="ax" textLength="26.5" lengthAdjust="spacingAndGlyphs">2.25<tspan dx="1.1">T</tspan></text>
<text x="1144.6" y="509.0" class="ax" textLength="26.5" lengthAdjust="spacingAndGlyphs">2.19<tspan dx="1.1">T</tspan></text>
<text x="1144.6" y="535.0" class="ax" textLength="26.5" lengthAdjust="spacingAndGlyphs">2.14<tspan dx="1.1">T</tspan></text>
<text x="1144.6" y="561.0" class="ax" textLength="26.5" lengthAdjust="spacingAndGlyphs">2.09<tspan dx="1.1">T</tspan></text>
<text x="1144.6" y="587.5" class="ax" textLength="26.5" lengthAdjust="spacingAndGlyphs">2.04<tspan dx="1.1">T</tspan></text>
<text x="1144.6" y="614.8" class="ax" textLength="26.5" lengthAdjust="spacingAndGlyphs">1.99<tspan dx="1.1">T</tspan></text>
<rect x="1137.8" y="78.8" width="37.5" height="13.6" fill="#000"/>
<text x="1144.8" y="89.1" class="bl" textLength="26.3" lengthAdjust="spacingAndGlyphs">3.22<tspan dx="1.1">T</tspan></text>
<rect x="1137.8" y="168.1" width="37.5" height="13.6" fill="#000"/>
<text x="1144.8" y="178.3" class="bl" textLength="26" lengthAdjust="spacingAndGlyphs">2.97<tspan dx="1.1">T</tspan></text>
<rect x="1137.8" y="192.4" width="32.3" height="13.6" fill="#000"/>
<text x="1144.8" y="202.7" class="bl" textLength="20.6" lengthAdjust="spacingAndGlyphs">2.9<tspan dx="1.1">T</tspan></text>
<rect x="1137.8" y="283.7" width="37.5" height="13.6" fill="#000"/>
<text x="1144.8" y="294.0" class="bl" textLength="26" lengthAdjust="spacingAndGlyphs">2.66<tspan dx="1.1">T</tspan></text>
<rect x="1137.8" y="297.2" width="37.5" height="13.6" fill="#000"/>
<text x="1144.8" y="307.5" class="bl" textLength="26" lengthAdjust="spacingAndGlyphs">2.64<tspan dx="1.1">T</tspan></text>
<rect x="1137.8" y="400.3" width="50" height="25.5" fill="#9b9ca1"/>
<text x="1145.3" y="410.9" class="cp1" textLength="20" lengthAdjust="spacingAndGlyphs">2.4<tspan dx="1.1">T</tspan></text>
<text x="1146" y="422" class="cp2" textLength="37.3" lengthAdjust="spacingAndGlyphs">19:34:00</text>
<rect x="1138.2" y="0" width="54" height="25" fill="#fafafa"/>
<rect x="1140.8" y="2.3" width="47.5" height="18.2" rx="2.5" fill="#fff"/>
<text x="1147.9" y="14.9" class="usd" textLength="17.5" lengthAdjust="spacingAndGlyphs">USD</text>
<text x="84.5" y="645.5" class="tx" textLength="16.8" lengthAdjust="spacingAndGlyphs">Dec</text>
<text x="285.9" y="645.5" class="tb" textLength="22.6" lengthAdjust="spacingAndGlyphs">2026</text>
<text x="493.6" y="645.5" class="tx" textLength="16.1" lengthAdjust="spacingAndGlyphs">Feb</text>
<text x="677.9" y="645.5" class="tx" textLength="15.6" lengthAdjust="spacingAndGlyphs">Mar</text>
<text x="882.9" y="645.5" class="tx" textLength="14.4" lengthAdjust="spacingAndGlyphs">Apr</text>
<text x="1079.2" y="645.5" class="tx" textLength="17.5" lengthAdjust="spacingAndGlyphs">May</text>
<text x="46.2" y="80" class="cb" textLength="27" lengthAdjust="spacingAndGlyphs">Broken</text>
<text x="198.5" y="107" class="cbb" textLength="104.6" lengthAdjust="spacingAndGlyphs">Rejecting Multiple Times</text>
<text x="632.1" y="370.6" class="cbb" textLength="42" lengthAdjust="spacingAndGlyphs">FakeOut ?</text>
<text x="705.7" y="554.8" class="ss" textLength="68.8" lengthAdjust="spacingAndGlyphs">Strong Support</text>
<text y="15" class="ti"><tspan x="15.5" textLength="28.5" lengthAdjust="spacingAndGlyphs">Crypto</tspan> <tspan x="48.7" textLength="20.3" lengthAdjust="spacingAndGlyphs">Total</tspan> <tspan x="73" textLength="29.5" lengthAdjust="spacingAndGlyphs">Market</tspan> <tspan x="105.5" textLength="21" lengthAdjust="spacingAndGlyphs">Cap,</tspan> <tspan x="129.6" textLength="4.8" lengthAdjust="spacingAndGlyphs">$</tspan> <tspan x="138.2">·</tspan> <tspan x="145" textLength="10" lengthAdjust="spacingAndGlyphs">1D</tspan> <tspan x="159.2">·</tspan> <tspan x="165" textLength="51" lengthAdjust="spacingAndGlyphs">CRYPTOCAP</tspan> <tspan x="223" textLength="31.4" lengthAdjust="spacingAndGlyphs">O2.39T</tspan> <tspan x="261.6" textLength="26" lengthAdjust="spacingAndGlyphs">H2.4T</tspan> <tspan x="295.6" textLength="30" lengthAdjust="spacingAndGlyphs">L2.38T</tspan> <tspan x="332.4" textLength="26" lengthAdjust="spacingAndGlyphs">C2.4T</tspan> <tspan x="365.6" textLength="31.4" lengthAdjust="spacingAndGlyphs">+4.96B</tspan> <tspan x="400.4" textLength="37.6" lengthAdjust="spacingAndGlyphs">(+0.21%)</tspan></text>
<circle cx="771.5" cy="619.2" r="7.9" fill="#fbf7fd" stroke="#7d479f" stroke-width="1.3"/>
<path d="M773.3 613.6 L768.3 620 H771.4 L770 624.6 L775.2 618 H772 Z" fill="#a13fc4"/>
<circle cx="777.3" cy="613.7" r="2.3" fill="#c8412f" stroke="#f8f8f8" stroke-width="0.8"/>
<circle cx="798.1" cy="619.2" r="8.3" fill="#fff" stroke="#dc5f68" stroke-width="1.4"/>
<clipPath id="fc"><circle cx="797.9" cy="619" r="6.2"/></clipPath>
<g clip-path="url(#fc)"><rect x="791" y="612" width="14" height="14" fill="#fff"/><rect x="791" y="613" width="14" height="2" fill="#e5646b"/><rect x="791" y="617" width="14" height="2" fill="#e5646b"/><rect x="791" y="621" width="14" height="2" fill="#e5646b"/><rect x="791" y="624.5" width="14" height="2" fill="#e5646b"/><rect x="791" y="612" width="8.5" height="8" fill="#5b86e0"/></g>
<g transform="translate(10,668.5) scale(0.69)" fill="#131313"><path d="M14 22H7V11H0V4h14v18z"/><circle cx="20" cy="8" r="4"/><path d="M28 22h-8l7.5-18h8L28 22z"/></g>
<text x="41.3" y="683.8" class="tv" textLength="99.5" lengthAdjust="spacingAndGlyphs">TradingView</text>
</svg>
</body></html>
